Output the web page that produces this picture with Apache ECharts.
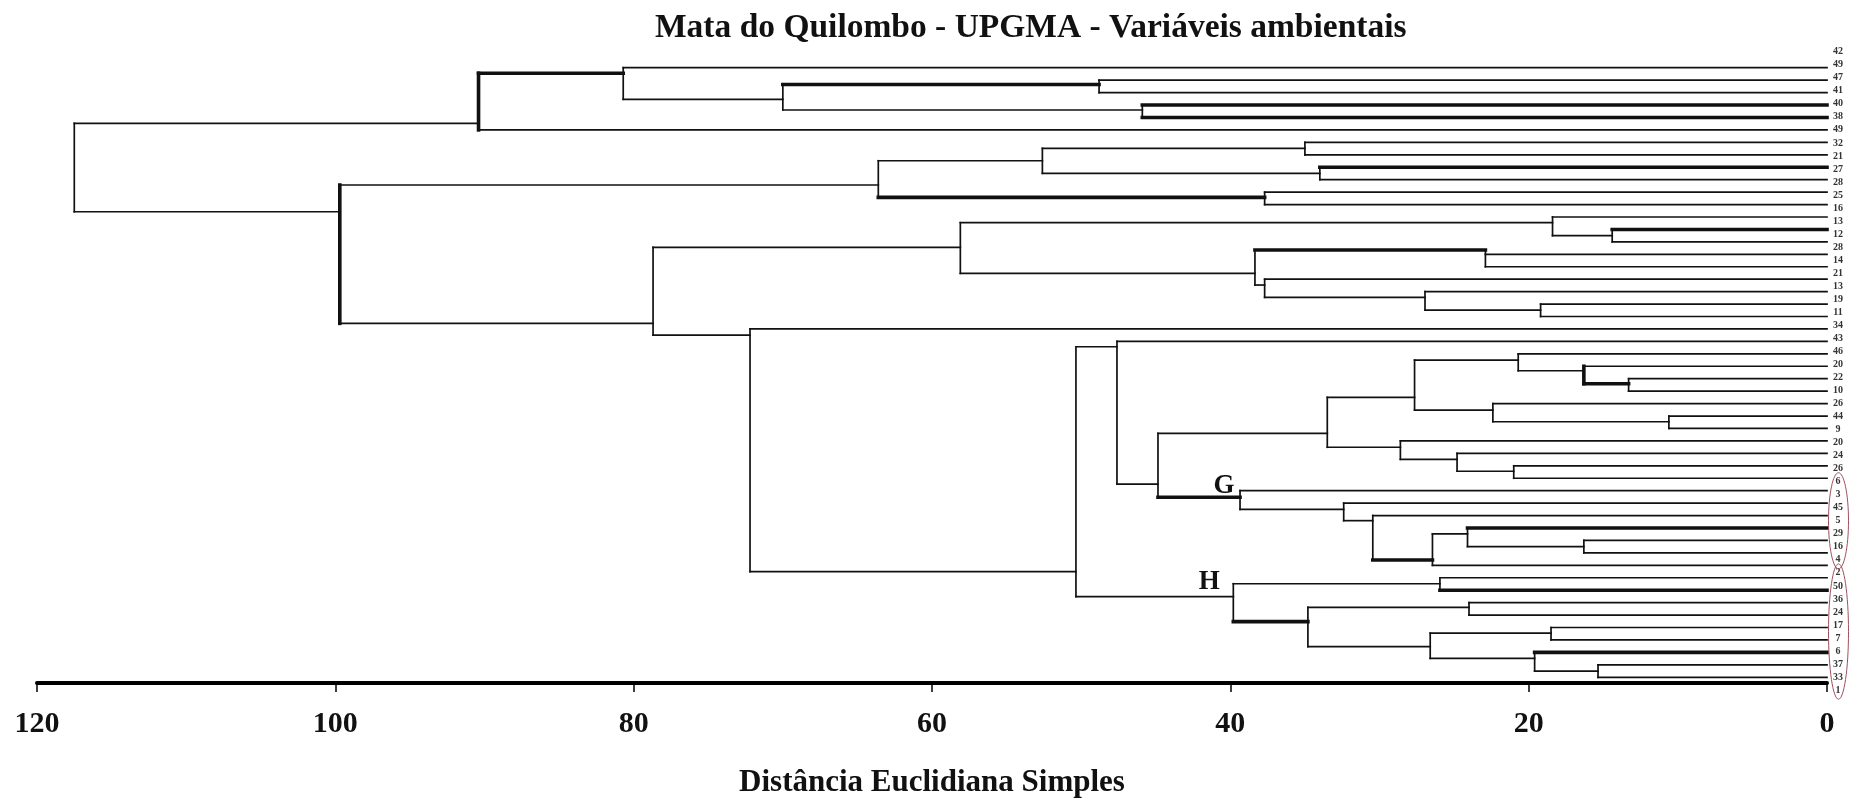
<!DOCTYPE html>
<html>
<head>
<meta charset="utf-8">
<script src="https://cdn.jsdelivr.net/npm/echarts@6/dist/echarts.min.js"></script>
<style>html,body{margin:0;padding:0;background:#fff;}#chart{width:1854px;height:798px;}</style>
</head>
<body>
<div id="chart"></div>
<script>
// ---- data ----
const titleText = 'Mata do Quilombo - UPGMA - Variáveis ambientais';
const axisTitle = 'Distância Euclidiana Simples';
const distanceTicks = [0, 20, 40, 60, 80, 100, 120];

// leaf labels, top to bottom (row 1..50)
const leafLabels = ['42','49','47','41','40','38','49','32','21','27','28','25','16','13','12','28','14','21','13','19','11','34','43','46','20','22','10','26','44','9','20','24','26','6','3','45','5','29','16','4','2','50','36','24','17','7','6','37','33','1'];

// internal nodes N1..N49: merge distance, children (L = leaf row, N = node), row where the branch joins
const nodeHeight = [48.8, 45.9, 70.0, 80.7, 90.4, 35.0, 34.0, 52.6, 37.7, 63.6, 14.4, 18.4, 22.9, 19.2, 26.95, 37.7, 38.35, 58.1, 13.3, 16.3, 20.7, 10.6, 22.4, 27.65, 21.0, 24.8, 28.6, 33.5, 16.3, 24.1, 26.45, 30.45, 32.4, 39.35, 44.85, 47.6, 25.95, 24.0, 18.5, 15.35, 19.6, 26.6, 34.8, 39.8, 50.35, 72.2, 78.7, 99.7, 117.5];
const nodeChildA = ['L2','L4','N1','L1','N4','L7','L9','N6','L11','N8','L14','L13','L16','L20','L19','L18','N13','N12','L26','L25','L24','L29','L28','N21','L33','L32','L31','N24','L39','L38','N30','L37','L36','L35','N28','L23','L42','L44','L46','L49','L48','N39','N38','N37','N36','L22','N18','N10','N5'];
const nodeChildB = ['L3','L5','N2','N3','L6','L8','L10','N7','L12','N9','L15','N11','L17','L21','N14','N15','N16','N17','L27','N19','N20','L30','N22','N23','L34','N25','N26','N27','L40','N29','L41','N31','N32','N33','N34','N35','L43','L45','L47','L50','N40','N41','N42','N43','N44','N45','N46','N47','N48'];
const nodeJoinRow = [2.35, 4.4, 3.54, 1.45, 5.47, 7.48, 9.49, 8.48, 11.42, 10.43, 14.5, 13.46, 15.65, 20.48, 19.46, 18.47, 17.53, 15.44, 26.4, 25.36, 24.5, 29.46, 28.52, 27.5, 33.44, 32.48, 31.51, 30.39, 39.49, 38.48, 40.57, 37.41, 36.5, 35.53, 34.47, 23.43, 42.48, 44.38, 46.45, 49.51, 48.48, 47.54, 45.53, 43.52, 41.51, 22.49, 21.55, 12.58, 8.6];

// group marks
const groupTags = ['G', 'H'];
const groupNodes = ['N34', 'N44'];
const circledLabelRanges = [[34, 40], [41, 50]];

// ---- styles (drawn heavier in the reference) ----
const thickBranches = ['N4','N1','L4','L5','N9','L9','L14','N13','N34','N31','L38','L43','N43','L48','N19'];
const thickStems = ['N5','N48','N20'];

// ---- build segments ----
function heightOf(id){ return id[0] === 'L' ? 0 : nodeHeight[+id.slice(1) - 1]; }
function rowOf(id){ return id[0] === 'L' ? +id.slice(1) : nodeJoinRow[+id.slice(1) - 1]; }
const segments = [];
for (let i = 0; i < nodeHeight.length; i++) {
  const id = 'N' + (i + 1);
  const h = nodeHeight[i];
  const kids = [nodeChildA[i], nodeChildB[i]];
  const rows = kids.map(rowOf);
  if (i < nodeHeight.length - 1) rows.push(nodeJoinRow[i]);
  segments.push([h, Math.min.apply(null, rows), h, Math.max.apply(null, rows), thickStems.includes(id) ? 1 : 0]);
  kids.forEach(k => {
    segments.push([h, rowOf(k), heightOf(k), rowOf(k), thickBranches.includes(k) ? 1 : 0]);
  });
}
const tagData = groupTags.map((t, i) => [heightOf(groupNodes[i]), rowOf(groupNodes[i]), t]);

const serif = 'Liberation Serif, Times New Roman, serif';
const chart = echarts.init(document.getElementById('chart'), null, {renderer: 'canvas'});
chart.setOption({
  animation: false,
  backgroundColor: '#ffffff',
  title: {
    text: titleText, left: 650, top: 6,
    textStyle: {fontFamily: serif, fontWeight: 'bold', fontSize: 33.5, color: '#111'}
  },
  grid: [
    {left: 37, right: 27, top: 40, bottom: 115, containLabel: false, outerBoundsMode: 'none'},
    {left: 1828, right: 3, top: 45.2, bottom: 101.3, containLabel: false, outerBoundsMode: 'none'}
  ],
  xAxis: [
    {
      gridIndex: 0, type: 'value', min: 0, max: 120, interval: 20, inverse: true, position: 'bottom',
      axisLine: {show: true, onZero: false, lineStyle: {color: '#000', width: 4}},
      axisTick: {show: true, length: 9, lineStyle: {color: '#000', width: 1.5}},
      axisLabel: {fontFamily: serif, fontWeight: 'bold', fontSize: 30, color: '#111', margin: 26,
        formatter: v => distanceTicks.includes(v) ? String(v) : ''},
      splitLine: {show: false},
      name: axisTitle, nameLocation: 'middle', nameGap: 84,
      nameTextStyle: {fontFamily: serif, fontWeight: 'bold', fontSize: 31, color: '#111'}
    },
    {gridIndex: 1, type: 'value', min: 0, max: 1, show: false}
  ],
  yAxis: [
    {gridIndex: 0, type: 'value', inverse: true, min: -1.227, max: 50.46, show: false},
    {
      gridIndex: 1, type: 'category', data: leafLabels, inverse: true, position: 'left',
      axisLine: {show: false}, axisTick: {show: false}, splitLine: {show: false},
      axisLabel: {inside: true, interval: 0, margin: 10, align: 'center',
        fontFamily: serif, fontWeight: 'bold', fontSize: 10, color: '#333'}
    }
  ],
  series: [
    {
      type: 'custom', xAxisIndex: 0, yAxisIndex: 0, clip: false,
      data: segments,
      encode: {x: [0, 2], y: [1, 3]},
      renderItem: function (params, api) {
        const p1 = api.coord([api.value(0), api.value(1)]);
        const p2 = api.coord([api.value(2), api.value(3)]);
        const thick = api.value(4) === 1;
        return {
          type: 'line',
          shape: {x1: p1[0], y1: p1[1], x2: p2[0], y2: p2[1]},
          style: {stroke: '#111', lineWidth: thick ? 3.6 : 1.7, lineCap: 'square'}
        };
      }
    },
    {
      type: 'custom', xAxisIndex: 0, yAxisIndex: 0, clip: false,
      data: tagData,
      encode: {x: 0, y: 1},
      renderItem: function (params, api) {
        const p = api.coord([api.value(0), api.value(1)]);
        const off = params.dataIndex === 0 ? [-16, -11] : [-24, -15];
        return {
          type: 'text',
          style: {text: groupTags[params.dataIndex], x: p[0] + off[0], y: p[1] + off[1],
            align: 'center', verticalAlign: 'middle',
            font: 'bold 27px ' + serif, fill: '#111'}
        };
      }
    },
    {
      type: 'custom', xAxisIndex: 1, yAxisIndex: 1, clip: false,
      data: circledLabelRanges.map(r => [r[0] - 1, r[1] - 1]),
      encode: {y: [0, 1]},
      renderItem: function (params, api) {
        const a = api.coord([0.5, api.value(0)]);
        const b = api.coord([0.5, api.value(1)]);
        return {
          type: 'ellipse',
          shape: {cx: a[0] - 1, cy: (a[1] + b[1]) / 2, rx: 10, ry: (b[1] - a[1]) / 2 + 9},
          style: {fill: 'none', stroke: '#a0505e', lineWidth: 1}
        };
      }
    }
  ]
});
</script>
</body>
</html>
